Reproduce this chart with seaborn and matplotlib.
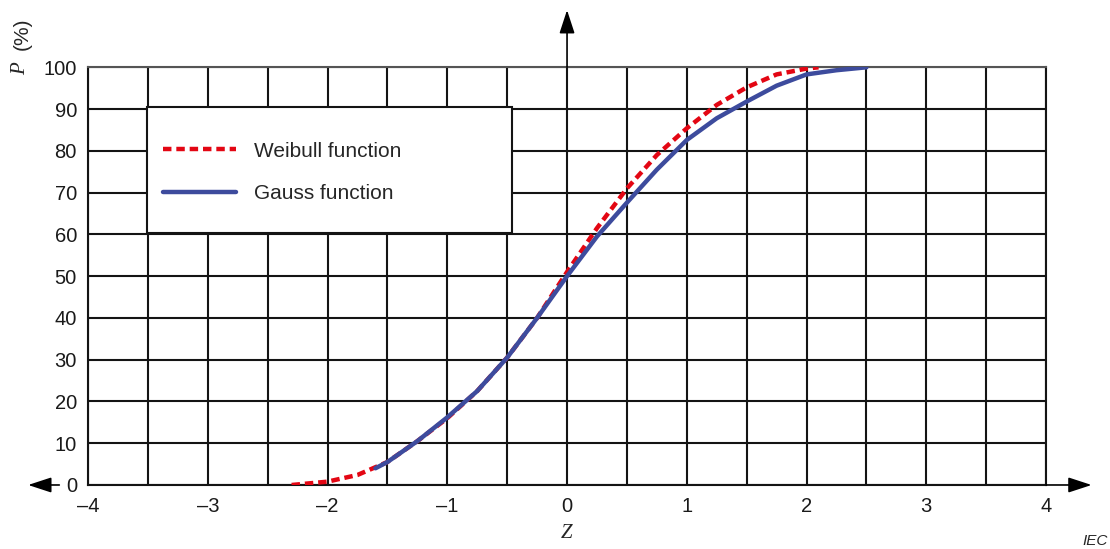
import matplotlib
matplotlib.use("Agg")
import matplotlib.pyplot as plt
from matplotlib.patches import Rectangle
from matplotlib.ticker import MultipleLocator
import pandas as pd
import seaborn as sns

# values
weibull_z = [-2.3, -2.0, -1.75, -1.5, -1.25, -1.0, -0.75, -0.5, -0.25, 0.0,
             0.25, 0.5, 0.75, 1.0, 1.25, 1.5, 1.75, 2.0, 2.1]
weibull_p = [0.0, 0.8, 2.4, 5.5, 10.5, 16.0, 22.5, 30.5, 40.0, 51.0,
             61.5, 71.0, 79.0, 85.4, 91.0, 95.2, 98.3, 99.7, 100.0]

gauss_z = [-1.6, -1.5, -1.25, -1.0, -0.75, -0.5, -0.25, 0.0, 0.25, 0.5,
           0.75, 1.0, 1.25, 1.5, 1.75, 2.0, 2.25, 2.5]
gauss_p = [4.0, 5.5, 10.5, 16.2, 22.5, 30.5, 40.0, 50.0, 59.5, 67.6,
           75.5, 82.6, 87.8, 91.8, 95.6, 98.3, 99.3, 100.0]

x_ticks = [-4, -3, -2, -1, 0, 1, 2, 3, 4]
x_tick_labels = ["\u20134", "\u20133", "\u20132", "\u20131", "0", "1", "2", "3", "4"]
y_ticks = [0, 10, 20, 30, 40, 50, 60, 70, 80, 90, 100]

RED = "#e30613"
BLUE = "#3d4b9d"
GRID = "#141414"

sns.set_style("white")
plt.rcParams["font.family"] = ["Liberation Sans", "DejaVu Sans"]

fig = plt.figure(figsize=(11.1, 5.49), dpi=100)
ax = fig.add_axes([0.0793, 0.1166, 0.8631, 0.7608])

weibull = pd.DataFrame({"z": weibull_z, "p": weibull_p})
gauss = pd.DataFrame({"z": gauss_z, "p": gauss_p})

sns.lineplot(data=weibull, x="z", y="p", color=RED, linewidth=3.2,
             linestyle=(0, (1.9, 1.1)), label="Weibull function", ax=ax, zorder=4)
sns.lineplot(data=gauss, x="z", y="p", color=BLUE, linewidth=3.2,
             label="Gauss function", ax=ax, zorder=5)

ax.set_xlim(-4, 4)
ax.set_ylim(0, 100)
ax.set_xticks(x_ticks)
ax.set_xticklabels(x_tick_labels)
ax.set_yticks(y_ticks)
ax.xaxis.set_minor_locator(MultipleLocator(0.5))
ax.grid(True, which="both", color=GRID, linewidth=1.5)
ax.tick_params(axis="both", which="both", length=0, labelsize=14.5, colors="#1a1a1a")
ax.tick_params(axis="x", pad=9)
ax.tick_params(axis="y", pad=8)
ax.set_xlabel("")
ax.set_ylabel("")
for spine in ax.spines.values():
    spine.set_visible(True)
    spine.set_color(GRID)
    spine.set_linewidth(1.5)
ax.spines["top"].set_color("#555555")

# legend box drawn by hand so its size matches the drawing
ax.add_patch(Rectangle((0.0616, 0.603), 0.381, 0.302, transform=ax.transAxes,
                       facecolor="white", edgecolor=GRID, linewidth=1.5, zorder=6))
ax.legend(loc="upper left", bbox_to_anchor=(0.0783, 0.822), frameon=False,
          fontsize=15, handlelength=3.5, handletextpad=0.87, labelspacing=1.14,
          borderpad=0, borderaxespad=0).set_zorder(7)

# axis arrows
head = dict(arrowstyle="-|>,head_length=0.55,head_width=0.18", mutation_scale=26,
            color="black", lw=1.2, shrinkA=0, shrinkB=0)
ax.annotate("", xy=(-4.5, 0), xytext=(-4.24, 0), arrowprops=head, annotation_clip=False)
ax.annotate("", xy=(4.38, 0), xytext=(4.0, 0), arrowprops=head, annotation_clip=False)
ax.annotate("", xy=(0, 113.7), xytext=(0, 100), arrowprops=head, annotation_clip=False)

fig.text(567 / 1110, 1 - 533 / 549, "Z", fontsize=15, style="italic",
         family="Liberation Serif", ha="center", va="center")
fig.text(21 / 1110, 1 - 69 / 549, "P", fontsize=15, style="italic",
         family="Liberation Serif", ha="center", va="center", rotation=90)
fig.text(22 / 1110, 1 - 34 / 549, "(%)", fontsize=15, ha="center", va="center", rotation=90)
fig.text(1095 / 1110, 1 - 541 / 549, "IEC", fontsize=11, style="italic",
         ha="center", va="center")

fig.savefig("out.png", dpi=100)
